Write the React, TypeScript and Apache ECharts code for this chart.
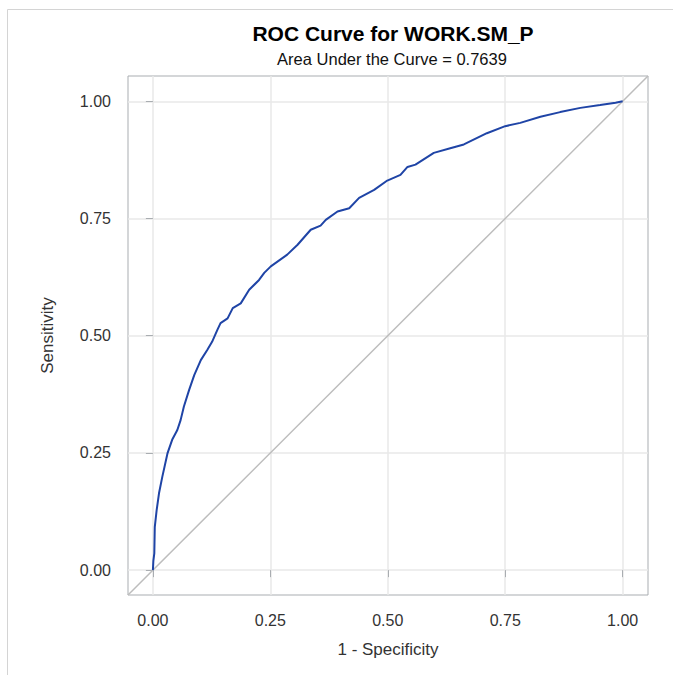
import React, { useEffect, useRef } from "react";
import * as echarts from "echarts";

const titleText = "ROC Curve for WORK.SM_P";
const subtitleText = "Area Under the Curve = 0.7639";
const xTitle = "1 - Specificity";
const yTitle = "Sensitivity";
const tickValues = [0, 0.25, 0.5, 0.75, 1];

// 1 - Specificity
const fpr = [
  0, 0.001, 0.003, 0.004, 0.008, 0.013, 0.02, 0.031, 0.041, 0.052, 0.059, 0.066,
  0.077, 0.088, 0.102, 0.116, 0.126, 0.137, 0.144, 0.159, 0.17, 0.187, 0.205,
  0.226, 0.237, 0.251, 0.286, 0.308, 0.336, 0.357, 0.368, 0.393, 0.418, 0.439,
  0.471, 0.499, 0.527, 0.542, 0.559, 0.598, 0.633, 0.662, 0.711, 0.75, 0.782,
  0.825, 0.867, 0.91, 0.952, 0.985, 1,
];
// Sensitivity
const tpr = [
  0, 0.02, 0.036, 0.092, 0.128, 0.164, 0.199, 0.249, 0.278, 0.299, 0.32, 0.349,
  0.384, 0.416, 0.448, 0.47, 0.487, 0.512, 0.527, 0.537, 0.559, 0.569, 0.598,
  0.619, 0.634, 0.648, 0.673, 0.694, 0.726, 0.735, 0.747, 0.765, 0.772, 0.794,
  0.811, 0.831, 0.843, 0.86, 0.865, 0.89, 0.9, 0.908, 0.932, 0.947, 0.954,
  0.967, 0.977, 0.986, 0.992, 0.997, 1,
];

const AX_MIN = -0.053;
const AX_MAX = 1.054;

export default function App() {
  const ref = useRef<HTMLDivElement>(null);
  useEffect(() => {
    if (!ref.current) return;
    const chart = echarts.init(ref.current, null, { renderer: "svg" });
    const font = "'Liberation Sans', Arial, sans-serif";
    const gray = "#a9adb1";
    const axisCommon = (name: string, isY: boolean) => ({
      type: "value" as const,
      min: AX_MIN,
      max: AX_MAX,
      name,
      nameLocation: "middle" as const,
      nameGap: isY ? 72 : 46,
      nameTextStyle: { fontFamily: font, fontSize: 17, color: "#333" },
      axisLine: { show: false },
      axisTick: {
        show: true,
        length: 7,
        customValues: tickValues,
        lineStyle: { color: gray, width: 1 },
      },
      axisLabel: {
        customValues: tickValues,
        fontFamily: font,
        fontSize: 16,
        color: "#333",
        margin: 17,
        formatter: (v: number) => v.toFixed(2),
      },
      splitLine: { show: true, lineStyle: { color: "#e8e8e8", width: 1.5 } },
    });
    chart.setOption({
      animation: false,
      title: [
        {
          text: titleText,
          left: 388,
          top: 18,
          textAlign: "center",
          textStyle: { fontFamily: font, fontSize: 21, fontWeight: "bold", color: "#000" },
        },
        {
          text: subtitleText,
          left: 387,
          top: 45,
          textAlign: "center",
          textStyle: { fontFamily: font, fontSize: 16.5, fontWeight: "normal", color: "#111" },
        },
      ],
      grid: {
        left: 128,
        top: 76,
        width: 520,
        height: 519,
        show: true,
        borderColor: gray,
        borderWidth: 1,
        backgroundColor: "transparent",
      },
      xAxis: axisCommon(xTitle, false),
      yAxis: axisCommon(yTitle, true),
      graphic: [
        { type: "line", shape: { x1: 7.5, y1: 9.5, x2: 673, y2: 9.5 }, style: { stroke: "#d4d4d4", lineWidth: 1 } },
        { type: "line", shape: { x1: 7.5, y1: 9.5, x2: 7.5, y2: 675 }, style: { stroke: "#d4d4d4", lineWidth: 1 } },
      ],
      series: [
        {
          type: "line",
          data: [
            [AX_MIN, AX_MIN],
            [AX_MAX, AX_MAX],
          ],
          symbol: "none",
          lineStyle: { color: "#bdbdbd", width: 1.5 },
          z: 2,
        },
        {
          type: "line",
          data: fpr.map((x, i) => [x, tpr[i]]),
          symbol: "none",
          lineStyle: { color: "#1f44a6", width: 2 },
          z: 3,
        },
      ],
    });
    return () => chart.dispose();
  }, []);
  return (
    <div
      ref={ref}
      style={{ position: "fixed", left: 0, top: 0, width: 673, height: 675, background: "#fff" }}
    />
  );
}
